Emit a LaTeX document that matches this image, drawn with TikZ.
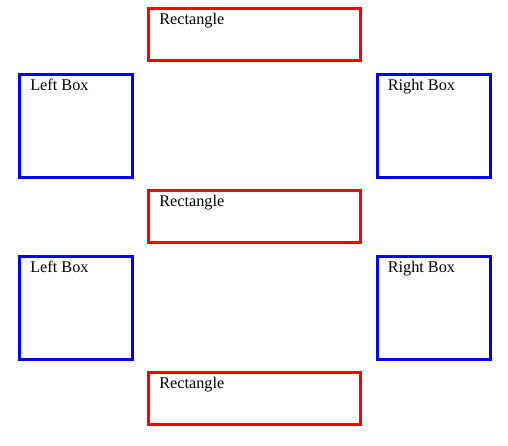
\documentclass[tikz,border=0pt]{standalone}
\usepackage{fontspec}
\setmainfont{Liberation Serif}
\usetikzlibrary{calc}
\begin{document}
\begin{tikzpicture}[x=0.75pt,y=-0.75pt,
  redbox/.style={draw=red,line width=2.25pt,rectangle,inner sep=0pt,minimum width=159pt,minimum height=39pt},
  bluebox/.style={draw=blue,line width=2.25pt,rectangle,inner sep=0pt,minimum width=84.75pt,minimum height=77pt},
  lbl/.style={anchor=base west,inner sep=0pt,font=\fontsize{12.2pt}{14pt}\selectfont}]
\useasboundingbox (0,0) rectangle (508,446);
\node[redbox] (r1) at (254.5,34.5) {};
\node[redbox] (r2) at (254.5,216.75) {};
\node[redbox] (r3) at (254.5,398.75) {};
\node[bluebox] (l1) at (76,125.75) {};
\node[bluebox] (rt1) at (433.5,125.75) {};
\node[bluebox] (l2) at (76,307.75) {};
\node[bluebox] (rt2) at (433.5,307.75) {};
\node[lbl] (tr1) at ($(r1.north west)+(12,17.5)$) {Rectangle};
\node[lbl] (tr2) at ($(r2.north west)+(12,17.5)$) {Rectangle};
\node[lbl] (tr3) at ($(r3.north west)+(12,17.5)$) {Rectangle};
\node[lbl] (tl1) at ($(l1.north west)+(12,17.5)$) {Left Box};
\node[lbl] (tl2) at ($(l2.north west)+(12,17.5)$) {Left Box};
\node[lbl] (trt1) at ($(rt1.north west)+(12,17.5)$) {Right Box};
\node[lbl] (trt2) at ($(rt2.north west)+(12,17.5)$) {Right Box};
\end{tikzpicture}
\end{document}
